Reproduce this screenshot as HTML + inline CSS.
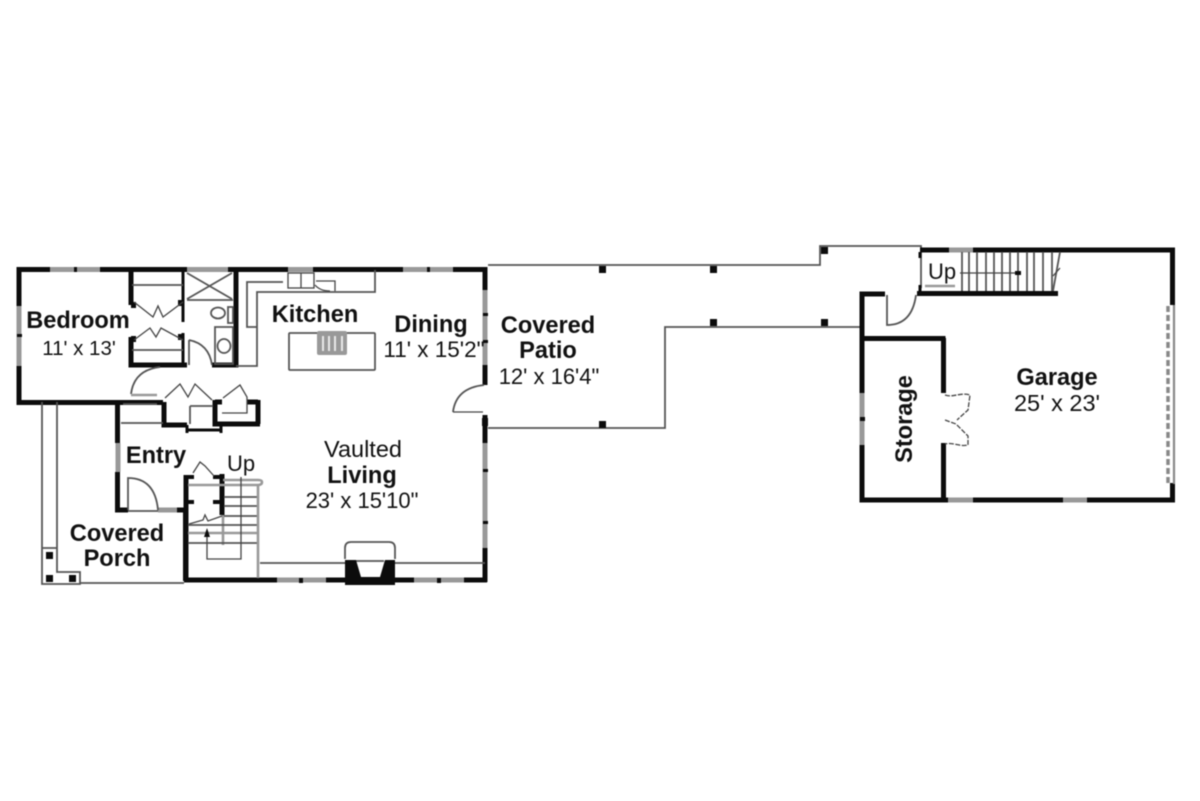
<!DOCTYPE html>
<html><head><meta charset="utf-8"><style>
html,body{margin:0;padding:0;background:#fff}
svg{display:block;filter:blur(.55px)}
text{font-family:"Liberation Sans",sans-serif;fill:#111;text-anchor:middle}
.b{font-weight:700;font-size:23.600px}
.r{font-size:22px}
.w{stroke:#0c0c0c;stroke-width:5;fill:none}
.n{stroke:#0c0c0c;stroke-width:3;fill:none}
.g{stroke:#999;stroke-width:5;fill:none}
.t{stroke:#555;stroke-width:1.800;fill:none}
.h{stroke:#999;stroke-width:2.600;fill:none}
.m{stroke:#444;stroke-width:1.300;fill:none}
.k{fill:#0c0c0c}
</style></head><body>
<svg width="1200" height="801" viewBox="0 0 1200 801" xmlns="http://www.w3.org/2000/svg">
<rect width="1200" height="801" fill="#fff"/>
<!-- patio -->
<path class="t" d="M488 265H820V246H921V288M488 428H665V327H862"/>
<g class="k"><rect x="599" y="266" width="7" height="7"/><rect x="710" y="266" width="7" height="7"/><rect x="821" y="247" width="7" height="7"/><rect x="710" y="319" width="7" height="7"/><rect x="821" y="319" width="7" height="7"/><rect x="599" y="421" width="7" height="7"/></g>
<!-- main walls -->
<path class="w" d="M16.500 269.500H50M100 269.500H187M228 269.500H288M313 269.500H403M453 269.500H487.500M19 269.500V306M19 366V402.500H163M485 269V290M485 365V385M485 415V443M485 548V582M487 580H464M414 580H395M345 580H326M277 580H184M186 475V580"/>
<path class="g" d="M50 269.500H100M187 269.500H228M288 269.500H313M403 269.500H453M19 306V366M485 290V365M485 443V548M277 580H326M414 580H464M118 443V472"/>
<path class="k" d="M74 267H77V272H74ZM427 267H430V272H427ZM17 334H22V337H17ZM299 578H303V583H299ZM437 578H441V583H437ZM483 313H488V316H483ZM483 340H488V343H483ZM483 469H488V472H483ZM483 521H488V524H483ZM482 418H488V426H482Z"/>
<path class="w" d="M131 270V305M131 337V365H187M236 270V365H212M117.500 402V443M117.500 472V510H128M177 510H186M164 402V425H187M215 400V424H260M258 400V424M215 402H222M247 402H258"/>
<path class="n" d="M183 270V322M183 333V365M187 430H222M187 425V433M221 425V433"/>
<path class="k" d="M185 475H194V479H185ZM185 500H194V504H185ZM213 475H224V479H213ZM213 500H224V504H213ZM131 302H136V308H131ZM131 336H136V342H131ZM178 300H183V306H178ZM178 334H183V340H178Z"/>
<path class="w" d="M222 474V515"/>
<path class="g" d="M158 510H177"/>
<path class="h" d="M223 515V545"/>
<!-- bedroom closets/bath -->
<path class="t" d="M132 285H183M132 350H183M187 300H233M187 273L232 299M187 299L232 273M215 327H233V364H215Z"/>
<path class="t" d="M189 340V365M189 340Q209 344 212 365"/>
<path class="m" d="M134 302L153 317L158 306L163 317L183 302M134 340L150 328L156 337L161 328L183 340"/>
<ellipse cx="224" cy="346" rx="6.500" ry="7" class="t"/><ellipse cx="218" cy="313" rx="7" ry="5.500" class="t"/><rect x="228" y="307" width="5" height="16" class="t"/>
<path class="t" d="M131 394Q134 370 160 367"/>
<path class="h" d="M131 395H157"/>
<path class="m" d="M165 398L180 384L188 397L195 384L212 400M223 398L240 385L247 397V413H222"/>
<path class="t" d="M190 406H213M190 406V424M123 404H157M121 423H163"/>
<!-- kitchen -->
<path class="t" d="M283 282H247V327H257V292H375V270M257 327V366H236"/>
<rect x="288" y="273" width="26" height="15" class="m" stroke-width="2"/><path class="m" d="M301 273V288M316 281H335V291M315 285Q320 291 330 291"/>
<rect x="289" y="333" width="86" height="37" rx="1" class="t"/>
<rect x="317" y="331" width="30" height="24" rx="2" fill="#999"/><path d="M323 336V351M329 336V351M335 336V351M342 336V351" stroke="#e8e8e8" stroke-width="2"/>
<!-- dining door -->
<path class="t" d="M453 412Q456 388 484 385"/>
<path class="m" stroke-width="2" d="M453 412H483"/>
<!-- entry -->
<path class="t" d="M128 510V478Q155 478 158 510M128 511H158"/>
<!-- stairs -->
<path class="h" d="M188 485H258Q262 485 262 482Q262 480 258 480H223"/>
<path class="t" d="M224 497H258M224 506H258M224 516H258M188 525H258M188 543H258"/>
<path class="h" d="M188 533H258M258 485V578"/>
<path class="t" d="M260 563H345M395 563H485"/>
<path class="m" d="M241 477V559H207V532"/>
<path d="M204 537L207 528L210 537Z" class="k"/>
<path class="m" d="M189 524L203 520L205 515L208 521L222 516M193 473L200 462L205 466L214 476"/>
<!-- porch -->
<path class="t" d="M42 402V548M57 402V548M42 548H57V572H80V584H42V548M80 583H184"/>
<path class="w" style="stroke-width:3" d="M184.500 510V581"/>
<rect x="46" y="552" width="7" height="7" class="k"/><rect x="46" y="575" width="7" height="7" class="k"/><rect x="69" y="575" width="7" height="7" class="k"/>
<!-- fireplace -->
<path class="t" d="M345 559V548Q345 542 351 542H389Q395 542 395 548V559M356 561H384"/>
<path class="k" d="M345 560H356L361 577H380L385 560H395V585H345Z"/>
<!-- garage -->
<path class="w" d="M885 294H862V500H948M973 500H1063M1087 500H1175M1172.500 483V500M1172.500 305V250H973M920 250H949M917 293.500H1058M862 338.500H945.500M943.500 338V393M943.500 443V500"/>
<path class="n" d="M920 252V258M920 285V292"/>
<path class="g" d="M949 250H973M948 500H973M1063 500H1087M862 393V445"/>
<path class="k" d="M860 417H865V421H860Z"/>
<path class="t" d="M962 252V291M969 252V291M977 252V291M986 252V291M994 252V291M1002 252V291M1010 252V291M1018 252V291M1027 252V291M1034 252V291M1043 252V291M1060 252L1053 291"/>
<path class="t" d="M1052 252V291"/>
<path class="m" d="M960 273H1016M1053 276L1060 268"/>
<rect x="1015" y="271" width="6" height="4" class="k"/>
<path class="h" d="M925 286H955"/>
<path class="t" d="M887 295V325Q912 325 916 295"/>
<path d="M1174 305V484" stroke="#888" stroke-width="2.200" fill="none"/>
<path d="M1168 306V484" stroke="#888" stroke-width="3.500" stroke-dasharray="6 3" fill="none"/>
<path class="m" stroke-dasharray="5 1.500" d="M945 395C953 398 960 392 970 395L968 410L957 420M945 420L956 424L968 436V445C960 447 953 442 945 444"/>
<!-- labels -->
<text class="b" x="78" y="328">Bedroom</text>
<text class="r" x="79" y="355" style="font-size:20.500px">11' x 13'</text>
<text class="b" x="315" y="322">Kitchen</text>
<text class="b" x="431" y="332">Dining</text>
<text class="r" x="434" y="357" style="font-size:22.500px">11' x 15'2"</text>
<text class="b" x="548" y="333">Covered</text>
<text class="b" x="548" y="358">Patio</text>
<text class="r" x="549" y="384">12' x 16'4"</text>
<text class="r" x="363" y="457" style="font-size:23.500px">Vaulted</text>
<text class="b" x="362" y="483">Living</text>
<text class="r" x="362" y="508">23' x 15'10"</text>
<text class="b" x="156" y="463">Entry</text>
<text class="r" x="241" y="471">Up</text>
<text class="b" x="117" y="541">Covered</text>
<text class="b" x="117" y="566">Porch</text>
<text class="r" x="942" y="279">Up</text>
<text class="b" x="1057" y="385">Garage</text>
<text class="r" x="1057" y="411" style="font-size:23.500px">25' x 23'</text>
<text class="b" transform="translate(912 419) rotate(-90)">Storage</text>
</svg>
</body></html>
